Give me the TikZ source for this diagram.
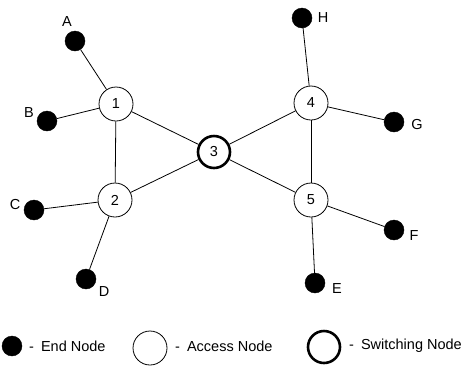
\documentclass[tikz,border=0pt]{standalone}
\usepackage{fontspec}
\setmainfont{Liberation Sans}
\begin{document}
\begin{tikzpicture}[x=1bp,y=-1bp,
  every node/.style={font=\fontsize{14.5bp}{17bp}\selectfont, inner sep=0pt},
  endnode/.style={circle, fill=black, draw=black, minimum size=20bp},
  accnode/.style={circle, fill=white, draw=black, line width=0.8bp, minimum size=34bp},
  swnode/.style={circle, fill=white, draw=black, line width=2.6bp, minimum size=32bp},
  link/.style={draw=black, line width=0.8bp}]
\useasboundingbox (0,0) rectangle (467,365);
% access and switching nodes
\node[accnode] (n1) at (116,104) {1};
\node[accnode] (n2) at (115,200) {2};
\node[swnode]  (n3) at (214,152) {3};
\node[accnode] (n4) at (311,103) {4};
\node[accnode] (n5) at (311,200) {5};
% end nodes
\node[endnode] (A) at (75,41) {};
\node[endnode] (B) at (47,121) {};
\node[endnode] (C) at (34,210) {};
\node[endnode] (D) at (86,279) {};
\node[endnode] (H) at (302,18) {};
\node[endnode] (G) at (394,122) {};
\node[endnode] (F) at (394,230) {};
\node[endnode] (E) at (315,283) {};
% labels
\node (lA) at (67,22) {A};
\node (lB) at (29,113) {B};
\node (lC) at (15,204) {C};
\node (lD) at (104,292) {D};
\node (lH) at (323,18) {H};
\node (lG) at (417,125) {G};
\node (lF) at (414,236) {F};
\node (lE) at (337,289) {E};
% links
\path[link] (A) -- (n1);
\path[link] (B) -- (n1);
\path[link] (n1) -- (n2);
\path[link] (n1) -- (n3);
\path[link] (n2) -- (n3);
\path[link] (C) -- (n2);
\path[link] (D) -- (n2);
\path[link] (H) -- (n4);
\path[link] (G) -- (n4);
\path[link] (n4) -- (n5);
\path[link] (n3) -- (n4);
\path[link] (n3) -- (n5);
\path[link] (F) -- (n5);
\path[link] (E) -- (n5);
% legend
\node[endnode] (le) at (12,346) {};
\node[anchor=west] (lte) at (29,346) {-\hspace{7bp}End Node};
\node[accnode] (la) at (150,348) {};
\node[anchor=west] (lta) at (175,346) {-\hspace{7bp}Access Node};
\node[swnode] (ls) at (324,347) {};
\node[anchor=west] (lts) at (349,346) {-\hspace{7bp}Switching Node};
\end{tikzpicture}
\end{document}
